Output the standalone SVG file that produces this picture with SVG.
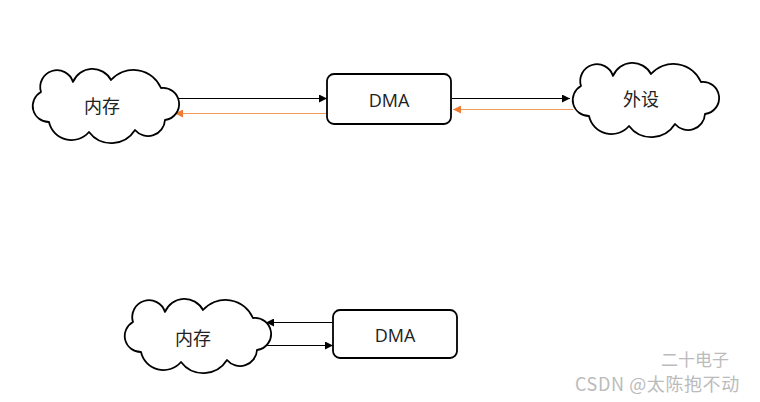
<svg xmlns="http://www.w3.org/2000/svg" width="760" height="402" viewBox="0 0 760 402">
<style>
.cloud{fill:#fff;stroke:#000;stroke-width:1.8;stroke-linejoin:round}
.box{fill:#fff;stroke:#000;stroke-width:1.8}
.cn{font-family:"Noto Sans CJK SC","Noto Sans",sans-serif;font-size:18px;fill:#222;text-anchor:middle;dominant-baseline:central}
.en{font-family:"Open Sans","Noto Sans",sans-serif;font-size:18px;fill:#222;text-anchor:middle;dominant-baseline:central}
.blk{stroke:#000;stroke-width:1;fill:none}
.org{stroke:#ED7D31;stroke-width:0.8;fill:none}
.wm{font-family:"Noto Sans CJK SC","Liberation Sans",sans-serif;fill:#bbb}
</style>
<defs>
<path id="cloudShape" d="M10,24 A16,16 0 0 1 42,14 A21,21 0 0 1 80,12 A30,30 0 0 1 130,20 A16,16 0 0 1 134,52 A17,17 0 0 1 104,62 A28,28 0 0 1 58,64 A23,23 0 0 1 18,54 A16,16 0 0 1 10,24 Z"/>
<marker id="ab" viewBox="0 0 10 10" refX="10" refY="5" markerWidth="9" markerHeight="8" markerUnits="userSpaceOnUse" orient="auto"><path d="M0,0 L10,5 L0,10 Z" fill="#000"/></marker>
<marker id="ao" viewBox="0 0 10 10" refX="10" refY="5" markerWidth="9" markerHeight="8" markerUnits="userSpaceOnUse" orient="auto"><path d="M0,0 L10,5 L0,10 Z" fill="#ED7D31"/></marker>
</defs>
<g id="connectors">
<line class="blk" x1="177" y1="98.5" x2="327" y2="98.5" marker-end="url(#ab)"/>
<line class="org" x1="327" y1="113.5" x2="175" y2="113.5" marker-end="url(#ao)"/>
<line class="blk" x1="452" y1="98.5" x2="570" y2="98.5" marker-end="url(#ab)"/>
<line class="org" x1="573" y1="109.5" x2="453" y2="109.5" marker-end="url(#ao)"/>
<line class="blk" x1="333" y1="322.5" x2="266" y2="322.5" marker-end="url(#ab)"/>
<line class="blk" x1="266" y1="345.5" x2="333" y2="345.5" marker-end="url(#ab)"/>
</g>
<g id="mem1">
<use href="#cloudShape" class="cloud" transform="translate(31,68)"/>
<text class="cn" x="102" y="105">内存</text>
</g>
<g id="dma1">
<rect class="box" x="327" y="74" width="124" height="50" rx="7"/>
<text class="en" x="389" y="100">DMA</text>
</g>
<g id="periph">
<use href="#cloudShape" class="cloud" transform="translate(571,62)"/>
<text class="cn" x="641" y="98">外设</text>
</g>
<g id="mem2">
<use href="#cloudShape" class="cloud" transform="translate(123,298)"/>
<text class="cn" x="193" y="337">内存</text>
</g>
<g id="dma2">
<rect class="box" x="333" y="310" width="124" height="48" rx="7"/>
<text class="en" x="395" y="335">DMA</text>
</g>
<g id="watermark">
<text class="wm" x="661" y="366" font-size="17" fill="#999">二十电子</text>
<text class="wm" x="575" y="391" font-size="18" letter-spacing="0.6">CSDN @太陈抱不动</text>
</g>
</svg>
